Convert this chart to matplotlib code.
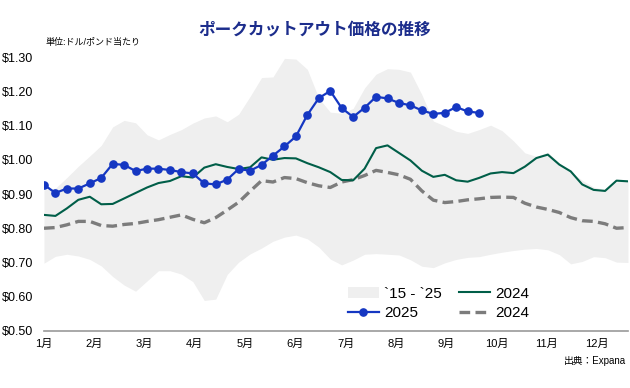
import matplotlib
matplotlib.use("Agg")
import matplotlib.pyplot as plt
import numpy as np

plt.rcParams['font.family'] = ['Liberation Sans', 'Noto Sans CJK JP', 'DejaVu Sans']

# 週ごとの値 (1月第1週 = 0)
weeks = np.arange(52)
months = ['1月', '2月', '3月', '4月', '5月', '6月', '7月', '8月', '9月', '10月', '11月', '12月']
weeks_per_month = 4.39

price_2025 = [0.927, 0.903, 0.916, 0.916, 0.931, 0.947, 0.988, 0.985, 0.967, 0.974,
              0.974, 0.970, 0.964, 0.960, 0.931, 0.928, 0.942, 0.973, 0.968, 0.985,
              1.012, 1.039, 1.068, 1.131, 1.180, 1.201, 1.151, 1.125, 1.152, 1.184,
              1.179, 1.166, 1.159, 1.144, 1.134, 1.137, 1.154, 1.141, 1.137]

price_2024 = [0.839, 0.836, 0.858, 0.883, 0.892, 0.870, 0.871, 0.887, 0.903, 0.919,
              0.932, 0.938, 0.952, 0.948, 0.977, 0.987, 0.979, 0.973, 0.978, 1.007,
              1.000, 1.005, 1.004, 0.990, 0.978, 0.964, 0.941, 0.940, 0.974, 1.034,
              1.042, 1.020, 0.998, 0.968, 0.950, 0.956, 0.940, 0.936, 0.947, 0.960,
              0.964, 0.961, 0.980, 1.005, 1.015, 0.986, 0.966, 0.928, 0.912, 0.909,
              0.939, 0.937]

price_2024_b = [0.800, 0.802, 0.810, 0.820, 0.820, 0.808, 0.806, 0.811, 0.814, 0.820,
                0.825, 0.832, 0.839, 0.826, 0.816, 0.831, 0.853, 0.876, 0.908, 0.939,
                0.935, 0.948, 0.945, 0.933, 0.924, 0.919, 0.935, 0.942, 0.954, 0.969,
                0.963, 0.956, 0.943, 0.909, 0.882, 0.875, 0.878, 0.883, 0.886, 0.890,
                0.891, 0.890, 0.873, 0.862, 0.855, 0.846, 0.831, 0.822, 0.820, 0.813,
                0.800, 0.802]

band_high = [0.912, 0.917, 0.948, 0.981, 1.011, 1.042, 1.096, 1.115, 1.108, 1.073,
             1.058, 1.074, 1.088, 1.107, 1.122, 1.128, 1.111, 1.133, 1.185, 1.240,
             1.242, 1.296, 1.294, 1.264, 1.180, 1.139, 1.136, 1.150, 1.210, 1.250,
             1.266, 1.264, 1.256, 1.190, 1.113, 1.099, 1.083, 1.077, 1.088, 1.101,
             1.085, 1.055, 1.020, 1.010, 1.022, 0.990, 0.965, 0.940, 0.920, 0.913,
             0.935, 0.940]

band_low = [0.698, 0.718, 0.724, 0.719, 0.709, 0.690, 0.659, 0.634, 0.616, 0.646,
            0.676, 0.676, 0.666, 0.644, 0.589, 0.593, 0.665, 0.701, 0.725, 0.742,
            0.762, 0.774, 0.780, 0.769, 0.745, 0.710, 0.693, 0.707, 0.724, 0.726,
            0.724, 0.722, 0.708, 0.689, 0.685, 0.699, 0.709, 0.715, 0.717, 0.724,
            0.730, 0.735, 0.739, 0.741, 0.737, 0.723, 0.696, 0.703, 0.717, 0.714,
            0.701, 0.700]

yticks = [0.5, 0.6, 0.7, 0.8, 0.9, 1.0, 1.1, 1.2, 1.3]

fig = plt.figure(figsize=(6.3, 3.88), dpi=100)
ax = fig.add_axes([0.0698, 0.147, 0.927, 0.706])

ax.fill_between(weeks, band_low, band_high, color='#efefef', linewidth=0, label='`15 - `25')
ax.plot(weeks, price_2024_b, color='#7c7c7c', lw=2.4, dashes=(3.2, 1.6), label='2024')
ax.plot(weeks, price_2024, color='#005e48', lw=1.5, label='2024')
ax.plot(weeks[:len(price_2025)], price_2025, color='#1537c2', lw=1.6,
        marker='o', markersize=5.2, label='2025')

ax.set_xlim(0, 51)
ax.set_ylim(0.5, 1.3)
ax.set_yticks(yticks)
ax.set_yticklabels([f'${v:.2f}' for v in yticks], fontsize=9)
ax.set_xticks([i * weeks_per_month for i in range(12)])
ax.set_xticklabels(months, fontsize=8)
ax.tick_params(axis='both', length=0)
ax.tick_params(axis='y', pad=8)
ax.tick_params(axis='x', pad=6)

for s in ['top', 'right', 'left']:
    ax.spines[s].set_visible(False)
ax.spines['bottom'].set_color('#999999')
ax.spines['bottom'].set_linewidth(1.2)

# 凡例の順番: 帯, 2025 | 2024, 2024(破線)
h, l = ax.get_legend_handles_labels()
order = [0, 3, 2, 1]
ax.legend([h[i] for i in order], [l[i] for i in order], ncol=2, frameon=False,
          fontsize=11, loc='upper left', bbox_to_anchor=(0.497, 0.212),
          handlelength=2.0, handletextpad=0.35, columnspacing=1.15, labelspacing=0.35)

fig.text(0.5, 0.925, 'ポークカットアウト価格の推移', ha='center', va='center',
         fontsize=12, fontweight='bold', color='#1c2d8c')
fig.text(0.073, 0.89, '単位:ドル/ポンド当たり', ha='left', va='center', fontsize=6.5)
fig.text(0.993, 0.07, '出典：Expana', ha='right', va='center', fontsize=7)

fig.savefig('out.png', dpi=100)
